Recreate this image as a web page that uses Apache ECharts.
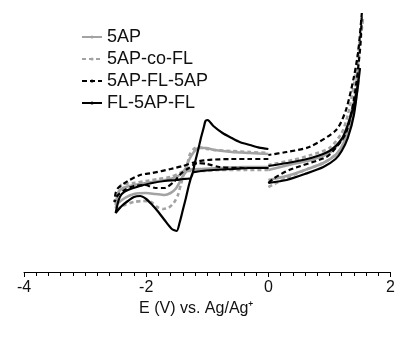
<!DOCTYPE html>
<html>
<head>
<meta charset="utf-8">
<script src="https://cdn.jsdelivr.net/npm/echarts@6/dist/echarts.min.js"></script>
<style>
html,body{margin:0;padding:0;background:#fff;}
#c{width:398px;height:343px;}
</style>
</head>
<body>
<div id="c"></div>
<script>
// Potential E (V vs Ag/Ag+) and current (arbitrary units)
var seriesNames = ['5AP', '5AP-co-FL', '5AP-FL-5AP', 'FL-5AP-FL'];
var xTicks = [-4, -2, 0, 2];

var ap5Left = [[0,1.65],[-0.4,1.65],[-0.8,1.6],[-1.1,1.55],[-1.3,1.5],[-1.38,1.3],[-1.45,0.9],[-1.52,0.55],[-1.6,0.35],[-1.7,0.25],[-1.85,0.3],[-2.0,0.35],[-2.2,0.3],[-2.35,0.1],[-2.5,-0.25],
  [-2.46,0.35],[-2.38,0.6],[-2.2,0.75],[-2.0,0.85],[-1.8,0.95],[-1.6,1.05],[-1.45,1.25],[-1.36,1.55],[-1.3,2.0],[-1.22,2.4],[-1.14,2.6],[-1.02,2.6],[-0.88,2.5],[-0.6,2.4],[-0.3,2.35],[0,2.3]];
var ap5Right = [[0,1.0],[0.3,1.2],[0.6,1.5],[0.9,1.85],[1.1,2.25],[1.2,2.65],[1.3,3.35],[1.4,4.5],[1.48,6.0],
  [1.4,4.9],[1.3,3.75],[1.2,3.0],[1.0,2.35],[0.7,2.0],[0.4,1.8],[0,1.5]];

var coLeft = [[0,1.5],[-0.4,1.5],[-0.8,1.5],[-1.1,1.45],[-1.3,1.45],[-1.37,1.35],[-1.43,0.8],[-1.48,0.25],[-1.55,-0.15],[-1.63,-0.38],[-1.72,-0.45],[-1.82,-0.35],[-1.92,-0.1],[-2.05,-0.05],[-2.2,-0.1],[-2.35,-0.25],[-2.5,-0.5],
  [-2.47,0.1],[-2.41,0.75],[-2.2,0.85],[-2.0,0.95],[-1.8,1.05],[-1.6,1.15],[-1.45,1.35],[-1.35,1.55],[-1.29,2.25],[-1.22,2.55],[-1.16,2.65],[-1.0,2.55],[-0.88,2.5],[-0.6,2.45],[-0.3,2.4],[0,2.35]];
var coRight = [[0,0.65],[0.1,0.8],[0.3,1.1],[0.6,1.5],[0.9,1.85],[1.1,2.25],[1.2,2.65],[1.3,3.5],[1.4,5.0],[1.5,7.75],[1.55,9.1],
  [1.5,8.1],[1.45,6.9],[1.4,5.75],[1.3,4.25],[1.2,3.35],[1.0,2.6],[0.7,2.25],[0.4,2.0],[0,1.75]];

var triLeft = [[0,1.6],[-0.4,1.6],[-0.8,1.65],[-1.0,1.8],[-1.16,1.85],[-1.3,1.6],[-1.42,1.35],[-1.55,0.9],[-1.7,0.6],[-1.85,0.6],[-2.02,0.75],[-2.2,0.7],[-2.35,0.5],[-2.46,0.25],[-2.52,-0.1],
  [-2.5,0.35],[-2.46,0.6],[-2.3,0.95],[-2.1,1.25],[-1.9,1.35],[-1.6,1.55],[-1.4,1.7],[-1.2,1.9],[-1.0,2.0],[-0.6,2.05],[-0.3,2.05],[0,2.05]];
var triRight = [[0,0.85],[0.1,1.1],[0.34,1.5],[0.95,2.15],[1.1,2.6],[1.27,3.35],[1.4,5.0],[1.5,7.5],[1.53,9.35],
  [1.47,7.4],[1.4,6.15],[1.27,4.5],[1.11,3.5],[0.67,2.65],[0.3,2.4],[0,2.25]];

var flLeft = [[0,1.6],[-0.3,1.6],[-0.6,1.55],[-0.9,1.5],[-1.1,1.45],[-1.2,1.4],[-1.24,1.35],[-1.3,0.75],[-1.35,0.1],[-1.4,-0.5],[-1.45,-1.1],[-1.5,-1.55],[-1.58,-1.45],[-1.7,-1.0],[-1.8,-0.6],[-1.9,-0.25],[-2.0,0.05],[-2.1,0.2],[-2.2,0.15],[-2.3,-0.05],[-2.4,-0.3],[-2.5,-0.65],
  [-2.45,0.0],[-2.4,0.3],[-2.3,0.5],[-2.1,0.7],[-1.9,0.85],[-1.7,0.95],[-1.5,1.0],[-1.4,1.05],[-1.27,1.1],[-1.2,1.9],[-1.15,2.5],[-1.1,3.15],[-1.06,3.6],[-1.03,3.95],[-1.0,4.0],[-0.97,3.95],[-0.9,3.7],[-0.75,3.35],[-0.6,3.1],[-0.47,2.9],[-0.3,2.75],[-0.15,2.62],[0,2.55]];
var flRight = [[0,0.85],[0.3,1.0],[0.6,1.3],[0.9,1.65],[1.1,2.05],[1.2,2.45],[1.3,3.1],[1.4,4.25],[1.5,6.6],
  [1.45,5.5],[1.4,4.75],[1.3,3.75],[1.2,3.05],[1.0,2.45],[0.7,2.1],[0.4,1.9],[0,1.7]];

function joined(a, b) { return a.concat([['-', '-']], b); }

var styles = [
  {color: '#a3a3a3', width: 2.6, type: 'solid'},
  {color: '#a3a3a3', width: 2.6, type: [4, 3]},
  {color: '#000000', width: 2.2, type: [5, 3]},
  {color: '#000000', width: 2.2, type: 'solid'}
];
var dataSets = [joined(ap5Left, ap5Right), joined(coLeft, coRight), joined(triLeft, triRight), joined(flLeft, flRight)];

var chart = echarts.init(document.getElementById('c'), null, {renderer: 'canvas'});
chart.setOption({
  animation: false,
  backgroundColor: '#ffffff',
  grid: {left: 24, right: 6, top: 0, bottom: 71, containLabel: false},
  legend: {
    orient: 'vertical', left: 76, top: 23,
    itemWidth: 20, itemHeight: 4, itemGap: 4,
    textStyle: {fontFamily: 'Liberation Sans, Arial, sans-serif', fontSize: 18, color: '#111', padding: [0,0,0,0]},
    data: seriesNames
  },
  xAxis: {
    type: 'value', min: -4, max: 2, interval: 2,
    axisLine: {show: true, onZero: false, lineStyle: {color: '#000', width: 1}},
    axisTick: {show: true, length: 5, lineStyle: {color: '#000'}},
    minorTick: {show: true, splitNumber: 10, length: 4, lineStyle: {color: '#000'}},
    splitLine: {show: false},
    axisLabel: {margin: 8, fontFamily: 'Liberation Sans, Arial, sans-serif', fontSize: 16, color: '#111',
      formatter: function (v) { return xTicks.indexOf(v) >= 0 ? String(v) : ''; }},
    name: 'E (V) vs. Ag/Ag\u207A', nameLocation: 'middle', nameGap: 24,
    nameTextStyle: {fontFamily: 'Liberation Sans, Arial, sans-serif', fontSize: 16, color: '#111', padding: [0, 22, 0, 0]}
  },
  yAxis: {type: 'value', min: -3.6, max: 10, show: false},
  series: seriesNames.map(function (n, i) {
    return {
      name: n, type: 'line', data: dataSets[i], symbol: 'none', smooth: 0.25,
      connectNulls: false, z: 2 + i,
      lineStyle: {color: styles[i].color, width: styles[i].width, type: styles[i].type},
      itemStyle: {color: styles[i].color}
    };
  })
});
</script>
</body>
</html>
